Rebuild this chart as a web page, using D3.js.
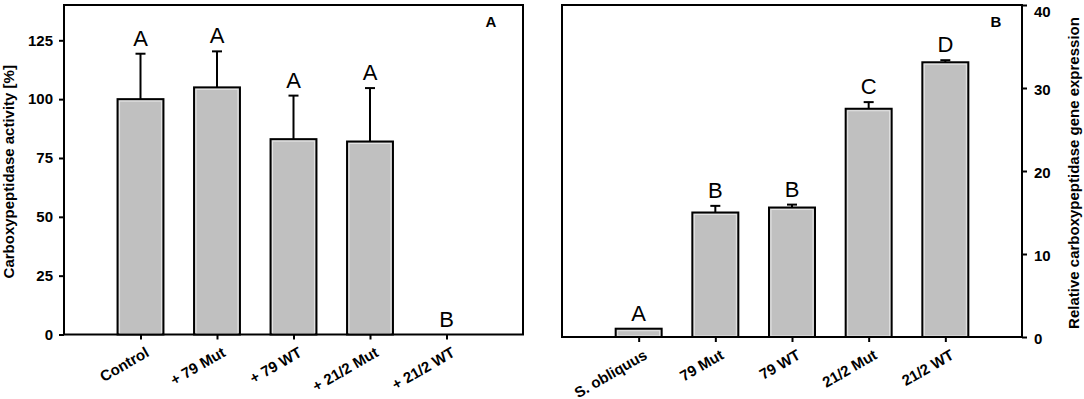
<!DOCTYPE html>
<html>
<head>
<meta charset="utf-8">
<script src="https://cdn.jsdelivr.net/npm/d3@7"></script>
<style>
  body { margin: 0; background: #fff; }
  svg { display: block; font-family: "Liberation Sans", Arial, sans-serif; }
  .tick text { font-size: 15px; font-weight: bold; fill: #000; }
  .tick line { stroke: #000; stroke-width: 2; }
  .catLabel { font-size: 15.5px; }
  .axisLabel { font-size: 15px; font-weight: bold; }
</style>
</head>
<body>
<div id="chart"></div>
<script>
// panel A: enzyme activity
const activityCategories = ['Control', '+ 79 Mut', '+ 79 WT', '+ 21/2 Mut', '+ 21/2 WT'];
const activityValues = [100, 105, 83, 82, 0];
const activityErrors = [19.3, 15.3, 18.5, 22.7, 0];
const activityLetters = ['A', 'A', 'A', 'A', 'B'];
const activityTicks = [0, 25, 50, 75, 100, 125];

// panel B: gene expression
const expressionCategories = ['S. obliquus', '79 Mut', '79 WT', '21/2 Mut', '21/2 WT'];
const expressionValues = [1.0, 15.0, 15.6, 27.5, 33.1];
const expressionErrors = [0, 0.8, 0.35, 0.8, 0.25];
const expressionLetters = ['A', 'B', 'B', 'C', 'D'];
const expressionTicks = [0, 10, 20, 30, 40];

const width = 1084, height = 399;

const svg = d3.select('#chart').append('svg')
    .attr('width', width)
    .attr('height', height);

// draws one framed bar panel
function drawPanel(opt) {
    const x = d3.scalePoint()
        .domain(opt.categories)
        .range([opt.left, opt.right])
        .padding(1);
    const y = d3.scaleLinear()
        .domain(opt.domain)
        .range([opt.bottom, opt.top]);
    const barW = x.step() * 0.6;
    const data = opt.categories.map((c, i) => ({
        cat: c, v: opt.values[i], e: opt.errors[i], letter: opt.letters[i]
    }));
    const g = svg.append('g');

    // error bars (upper only)
    const err = g.selectAll('.err').data(data.filter(d => d.e > 0)).join('g');
    err.append('line')
        .attr('x1', d => x(d.cat)).attr('x2', d => x(d.cat))
        .attr('y1', d => y(d.v)).attr('y2', d => y(d.v + d.e))
        .attr('stroke', '#000').attr('stroke-width', 2);
    err.append('line')
        .attr('x1', d => x(d.cat) - 5).attr('x2', d => x(d.cat) + 5)
        .attr('y1', d => y(d.v + d.e)).attr('y2', d => y(d.v + d.e))
        .attr('stroke', '#000').attr('stroke-width', 2);

    // bars
    g.selectAll('.bar').data(data.filter(d => d.v > 0)).join('rect')
        .attr('x', d => x(d.cat) - barW / 2)
        .attr('y', d => y(d.v))
        .attr('width', barW)
        .attr('height', d => y(0) - y(d.v))
        .attr('fill', '#c0c0c0')
        .attr('stroke', '#000')
        .attr('stroke-width', 2);
    // light inner edge
    g.selectAll('.inner').data(data.filter(d => d.v > 0)).join('rect')
        .attr('x', d => x(d.cat) - barW / 2 + 2)
        .attr('y', d => y(d.v) + 2)
        .attr('width', barW - 4)
        .attr('height', d => Math.max(0, y(0) - y(d.v) - 3))
        .attr('fill', 'none')
        .attr('stroke', '#e4e4e4')
        .attr('stroke-width', 1);

    // significance letters
    g.selectAll('.letter').data(data).join('text')
        .attr('x', d => x(d.cat))
        .attr('y', d => y(d.v + d.e) - 8)
        .attr('text-anchor', 'middle')
        .style('font-size', '22px')
        .text(d => d.letter);

    // frame
    g.append('rect')
        .attr('x', opt.left).attr('y', opt.top)
        .attr('width', opt.right - opt.left)
        .attr('height', opt.bottom - opt.top)
        .attr('fill', 'none')
        .attr('stroke', '#000')
        .attr('stroke-width', 2);

    // value axis
    const isLeft = opt.axisSide === 'left';
    const axisGen = isLeft ? d3.axisLeft(y) : d3.axisRight(y);
    const yAxis = g.append('g')
        .attr('transform', `translate(${isLeft ? opt.left : opt.right},0)`)
        .call(axisGen.tickValues(opt.ticks).tickSize(5).tickPadding(isLeft ? 6 : 7));
    yAxis.select('.domain').remove();
    if (!isLeft) {
        // labels sit a little below their ticks; keep the top one inside
        yAxis.selectAll('.tick text')
            .attr('dy', d => d === opt.domain[1] ? '0.75em' : '0.42em');
    }

    // category axis
    const xAxis = g.append('g')
        .attr('transform', `translate(0,${opt.bottom})`)
        .call(d3.axisBottom(x).tickSize(5));
    xAxis.select('.domain').remove();
    xAxis.selectAll('text')
        .classed('catLabel', true)
        .attr('x', 0).attr('y', 0).attr('dy', 0)
        .attr('text-anchor', 'end')
        .attr('transform', 'translate(9,21) rotate(-30)');

    // panel letter
    g.append('text')
        .attr('x', opt.right - opt.tagInset)
        .attr('y', opt.top + 22)
        .attr('text-anchor', 'middle')
        .style('font-size', '15px')
        .style('font-weight', 'bold')
        .text(opt.tag);

    // axis title
    g.append('text')
        .classed('axisLabel', true)
        .attr('transform', `translate(${opt.labelX},${(opt.top + opt.bottom) / 2 + 2}) rotate(-90)`)
        .attr('text-anchor', 'middle')
        .text(opt.label);
}

drawPanel({
    categories: activityCategories, values: activityValues, errors: activityErrors,
    letters: activityLetters, ticks: activityTicks, domain: [0, 140],
    left: 64, right: 523, top: 5, bottom: 334.5,
    axisSide: 'left', tag: 'A', tagInset: 32,
    label: 'Carboxypeptidase activity [%]', labelX: 14
});

drawPanel({
    categories: expressionCategories, values: expressionValues, errors: expressionErrors,
    letters: expressionLetters, ticks: expressionTicks, domain: [0, 40],
    left: 562, right: 1022, top: 5, bottom: 337,
    axisSide: 'right', tag: 'B', tagInset: 26,
    label: 'Relative carboxypeptidase gene expression', labelX: 1079
});
</script>
</body>
</html>
